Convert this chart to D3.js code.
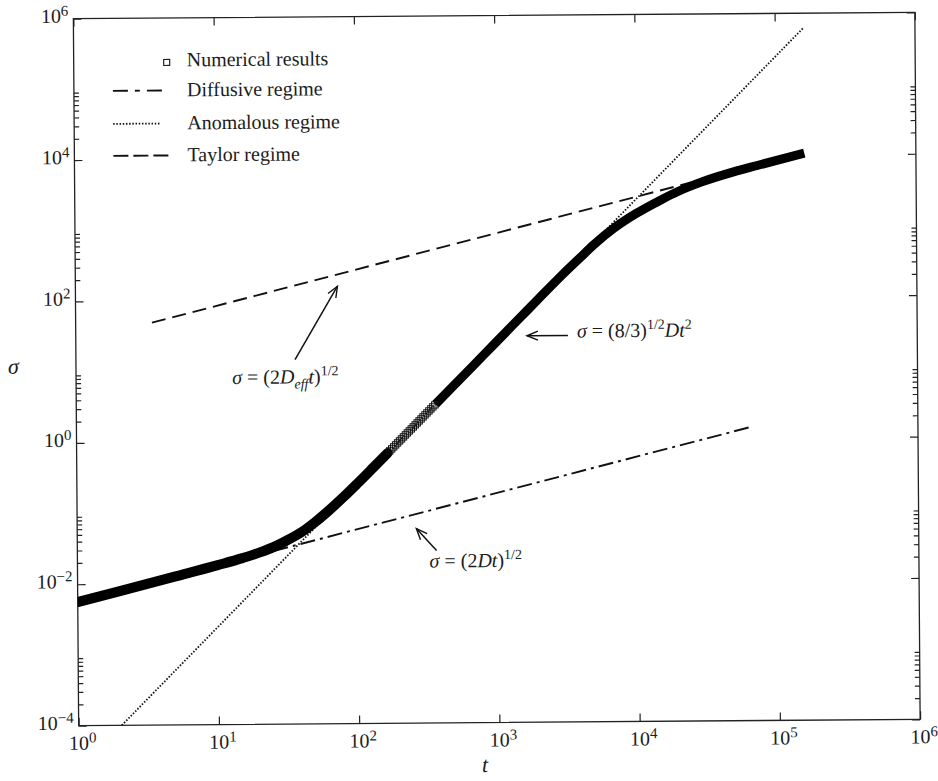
<!DOCTYPE html>
<html><head><meta charset="utf-8">
<script src="https://cdnjs.cloudflare.com/ajax/libs/d3/7.8.5/d3.min.js"></script>
<style>
body{margin:0;background:#fff}
svg{display:block}
text{font-family:"Liberation Serif","Times New Roman",serif;fill:#1c1c1c}
</style>
</head><body>
<svg id="c" width="938" height="781"></svg>
<script>
// ---------- data ----------
const numT = [1,2,5,10,15,20,25,30,40,50,60,80,100,130,165,200,250,300,364,500,700,1000,1500,2000,3000,4000,5000,7000,10000,15000,20000,30000,50000,75000,100000,160000];
const numS = [0.0056,0.0079,0.0126,0.018,0.0225,0.027,0.032,0.038,0.052,0.072,0.097,0.162,0.248,0.415,0.665,0.975,1.52,2.19,3.22,6.08,11.9,24.3,54.6,97,216,370,560,960,1520,2350,3100,4250,5800,7150,8280,10500];
const hollowRange = [165, 364];           // numerical markers drawn open in this t-range

const diffT = [25, 64000];    const diffS = [0.0281, 1.42];     // diffusive regime
const anomT = [2.03, 160000]; const anomS = [1e-4, 6.2e5];      // anomalous regime
const taylT = [3.5, 25000];   const taylS = [49.2, 4160];       // Taylor regime

const xTickVals = [1,10,100,1e3,1e4,1e5,1e6];
const xTickExp  = ["0","1","2","3","4","5","6"];
const yTickVals = [1e-4,1e-2,1,1e2,1e4,1e6];
const yTickExp  = ["\u22124","\u22122","0","2","4","6"];
const yMinorDecades = [-4,-2,0,2,4];
const legendLabels = ["Numerical results","Diffusive regime","Anomalous regime","Taylor regime"];

// annotations: arrow tail/head and label anchor in data units
const arrows = [
  {tail:[36.5,14.3], head:[73.9,154]},
  {tail:[3230,29.3], head:[1648,29.3]},
  {tail:[364,0.0275], head:[262,0.0564]}
];
const labelPos = [[12.97,6.55],[3743,27.4],[324,0.0158]];

// ---------- layout ----------
const L=76, R=917.5, T=15.5, B=722.5;
const svg = d3.select("#c");
const g = svg.append("g").attr("transform","rotate(-0.43 496.75 369)");
const x = d3.scaleLog().domain([1,1e6]).range([L,R]);
const y = d3.scaleLog().domain([1e-4,1e6]).range([B,T]);

svg.append("defs").html(
 '<clipPath id="clip"><rect x="'+L+'" y="'+T+'" width="'+(R-L)+'" height="'+(B-T)+'"/></clipPath>'+
 '<marker id="arr" viewBox="-12 -6 14 12" refX="0" refY="0" markerWidth="14" markerHeight="12" markerUnits="userSpaceOnUse" orient="auto">'+
 '<path d="M-11,-4.5 L0,0 L-11,4.5" fill="none" stroke="#111" stroke-width="1.4"/></marker>');

// ---------- frame and ticks ----------
g.append("rect").attr("x",L).attr("y",T).attr("width",R-L).attr("height",B-T)
 .attr("fill","none").attr("stroke","#222").attr("stroke-width",1.3);

const xAxB = d3.axisBottom(x).tickValues(xTickVals).tickSizeInner(-8).tickSizeOuter(0).tickFormat("");
const xAxT = d3.axisTop(x).tickValues(xTickVals).tickSizeInner(-8).tickSizeOuter(0).tickFormat("");
const minorY = [];
yMinorDecades.forEach(e=>{for(let k=2;k<=9;k++) minorY.push(k*Math.pow(10,e));});
const yAxL = d3.axisLeft(y).tickValues(yTickVals).tickSizeInner(-8).tickSizeOuter(0).tickFormat("");
const yAxR = d3.axisRight(y).tickValues(yTickVals).tickSizeInner(-8).tickSizeOuter(0).tickFormat("");
const yAxLm = d3.axisLeft(y).tickValues(minorY).tickSizeInner(-5).tickSizeOuter(0).tickFormat("");
const yAxRm = d3.axisRight(y).tickValues(minorY).tickSizeInner(-5).tickSizeOuter(0).tickFormat("");
function styleAx(sel){sel.select(".domain").remove(); sel.selectAll("line").attr("stroke","#222").attr("stroke-width",1.2);}
g.append("g").attr("transform",`translate(0,${B})`).call(xAxB).call(styleAx);
g.append("g").attr("transform",`translate(0,${T})`).call(xAxT).call(styleAx);
g.append("g").attr("transform",`translate(${L},0)`).call(yAxL).call(styleAx);
g.append("g").attr("transform",`translate(${R},0)`).call(yAxR).call(styleAx);
g.append("g").attr("transform",`translate(${L},0)`).call(yAxLm).call(styleAx);
g.append("g").attr("transform",`translate(${R},0)`).call(yAxRm).call(styleAx);

// tick labels
xTickVals.forEach((v,i)=>{
  const t = g.append("text").attr("x",x(v)+4).attr("y",B+24).attr("text-anchor","middle").attr("font-size",20);
  t.append("tspan").text("10");
  t.append("tspan").attr("dy",-7).attr("font-size",15).text(xTickExp[i]);
});
yTickVals.forEach((v,i)=>{
  const t = g.append("text").attr("x",L-5).attr("y",y(v)+4).attr("text-anchor","end").attr("font-size",20);
  t.append("tspan").text("10");
  t.append("tspan").attr("dy",-7).attr("font-size",15).text(yTickExp[i]);
});

// axis titles
g.append("text").attr("x",482).attr("y",772).attr("text-anchor","middle").attr("font-size",22).attr("font-style","italic").text("t");
g.append("text").attr("x",8).attr("y",370).attr("font-size",22).attr("font-style","italic").text("\u03c3");

// ---------- lines ----------
const plot = g.append("g").attr("clip-path","url(#clip)");
const line = d3.line().x(d=>x(d[0])).y(d=>y(d[1]));
const zip = (a,b)=>a.map((v,i)=>[v,b[i]]);

plot.append("path").attr("d",line(zip(anomT,anomS))).attr("fill","none").attr("stroke","#111")
  .attr("stroke-width",1.8).attr("stroke-dasharray","1.5,1.7");
plot.append("path").attr("d",line(zip(taylT,taylS))).attr("fill","none").attr("stroke","#111")
  .attr("stroke-width",1.9).attr("stroke-dasharray","14,7");
plot.append("path").attr("d",line(zip(diffT,diffS))).attr("fill","none").attr("stroke","#111")
  .attr("stroke-width",1.9).attr("stroke-dasharray","15,5,3,5");

// numerical results
const numPts = zip(numT,numS);
const seg1 = numPts.filter(d=>d[0]<=hollowRange[0]);
const seg2 = numPts.filter(d=>d[0]>=hollowRange[0] && d[0]<=hollowRange[1]);
const seg3 = numPts.filter(d=>d[0]>=hollowRange[1]);
const cl = d3.line().x(d=>x(d[0])).y(d=>y(d[1])).curve(d3.curveMonotoneX);
plot.append("path").attr("d",cl(seg1)).attr("fill","none").attr("stroke","#000").attr("stroke-width",10).attr("stroke-linecap","round");
plot.append("path").attr("d",cl(seg3)).attr("fill","none").attr("stroke","#000").attr("stroke-width",9).attr("stroke-linecap","butt");
const hp = plot.append("path").attr("d",cl(seg2)).attr("fill","none").attr("stroke","none");
const hn = hp.node(), hl = hn.getTotalLength();
const sq = [];
for(let l=3;l<=hl;l+=2.8){ sq.push(hn.getPointAtLength(l)); }
plot.selectAll("rect.sq").data(sq).enter().append("rect").attr("class","sq")
  .attr("x",d=>d.x-3.2).attr("y",d=>d.y-3.2).attr("width",6.4).attr("height",6.4)
  .attr("fill","none").attr("stroke","#111").attr("stroke-width",1);

// ---------- legend ----------
const lg = g.append("g");
const rowY = [62, 92, 125, 157];
lg.append("rect").attr("x",169-3).attr("y",rowY[0]-5).attr("width",6).attr("height",6)
  .attr("fill","none").attr("stroke","#222").attr("stroke-width",1.2);
lg.append("line").attr("x1",115).attr("x2",169).attr("y1",rowY[1]-4).attr("y2",rowY[1]-4)
  .attr("stroke","#111").attr("stroke-width",1.9).attr("stroke-dasharray","15,7,5,7");
lg.append("line").attr("x1",115).attr("x2",162).attr("y1",rowY[2]-4).attr("y2",rowY[2]-4)
  .attr("stroke","#111").attr("stroke-width",1.8).attr("stroke-dasharray","1.5,1.7");
lg.append("line").attr("x1",115).attr("x2",173).attr("y1",rowY[3]-4).attr("y2",rowY[3]-4)
  .attr("stroke","#111").attr("stroke-width",1.9).attr("stroke-dasharray","15,5");
legendLabels.forEach((s,i)=>{
  lg.append("text").attr("x",189).attr("y",rowY[i]+2).attr("font-size",20).text(s);
});

// ---------- annotations ----------
arrows.forEach(a=>{
  g.append("line").attr("x1",x(a.tail[0])).attr("y1",y(a.tail[1])).attr("x2",x(a.head[0])).attr("y2",y(a.head[1]))
   .attr("stroke","#111").attr("stroke-width",1.5).attr("marker-end","url(#arr)");
});
function ann(i, parts){
  const t = g.append("text").attr("x",x(labelPos[i][0])).attr("y",y(labelPos[i][1])).attr("font-size",20);
  parts.forEach(p=>{
    const s = t.append("tspan").text(p.s);
    if(p.i) s.attr("font-style","italic");
    if(p.fs) s.attr("font-size",p.fs);
    if(p.dy) s.attr("dy",p.dy);
  });
}
ann(0,[{s:"\u03c3",i:1},{s:" = (2"},{s:"D",i:1},{s:"eff",i:1,fs:14,dy:5},{s:"t",i:1,dy:-5},{s:")"},{s:"1/2",fs:14,dy:-8}]);
ann(1,[{s:"\u03c3",i:1},{s:" = (8/3)"},{s:"1/2",fs:14,dy:-8},{s:"Dt",i:1,dy:8},{s:"2",fs:14,dy:-8}]);
ann(2,[{s:"\u03c3",i:1},{s:" = (2"},{s:"Dt",i:1},{s:")"},{s:"1/2",fs:14,dy:-8}]);
</script>
</body></html>
